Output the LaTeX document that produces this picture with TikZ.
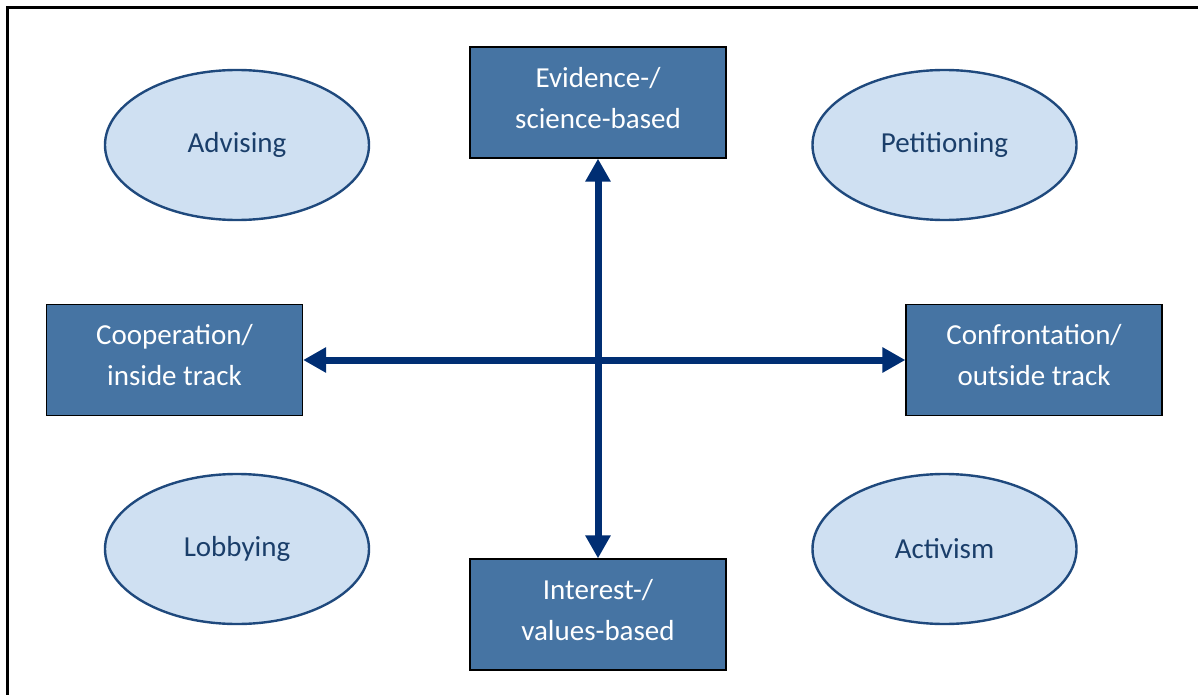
\documentclass[tikz,border=0pt]{standalone}
\usepackage{fontspec}
\setmainfont{Carlito}
\usepackage{tikz}
\usetikzlibrary{shapes.geometric}
\usetikzlibrary{arrows.meta}
\definecolor{boxblue}{RGB}{70,116,163}
\definecolor{paleblue}{RGB}{207,224,242}
\definecolor{rimblue}{RGB}{31,73,125}
\definecolor{navy}{RGB}{0,46,115}
\tikzstyle{track}=[draw=black, line width=1.2pt, fill=boxblue, text=white, minimum width=256pt, minimum height=111pt, align=center, text depth=10pt, font=\fontsize{29}{41}\selectfont]
\tikzstyle{mode}=[ellipse, draw=rimblue, line width=2.4pt, fill=paleblue, text=rimblue!85!black, minimum width=264pt, minimum height=150pt, inner sep=0pt, font=\fontsize{29}{41}\selectfont]
\tikzstyle{axis}=[navy, line width=7pt, {Triangle[length=23pt,width=24pt]}-{Triangle[length=23pt,width=24pt]}]

\begin{document}
\begin{tikzpicture}[x=1pt, y=-1pt]
        \useasboundingbox (0,0) rectangle (1198,695);
        \draw[line width=2.4pt] (7.5,700) -- (7.5,7.5) -- (1205,7.5);
        \node[track] (Evid) at (598, 102.5) {Evidence-/\\science-based};
        \node[track] (Inter) at (598, 614.5) {Interest-/\\values-based};
        \node[track] (Coop) at (174.5, 360) {Cooperation/\\inside track};
        \node[track] (Conf) at (1034, 360) {Confrontation/\\outside track};
        \node[mode] (Adv) at (237, 145) {Advising};
        \node[mode] (Pet) at (944.5, 145) {Petitioning};
        \node[mode] (Lob) at (237, 549) {Lobbying};
        \node[mode] (Act) at (944.5, 549) {Activism};
        \draw[axis] (Evid.south) -- (Inter.north);
        \draw[axis] (Coop.east) -- (Conf.west);
    \end{tikzpicture}
\end{document}
